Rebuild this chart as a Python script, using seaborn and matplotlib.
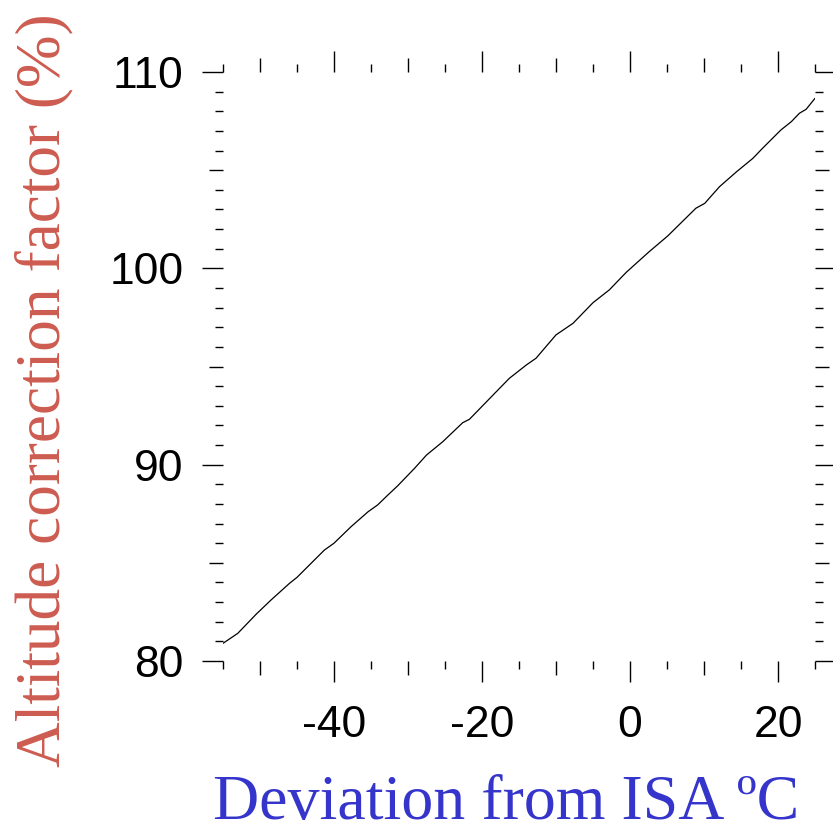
import matplotlib
matplotlib.use("Agg")
import matplotlib.pyplot as plt
import seaborn as sns
import pandas as pd
from matplotlib.ticker import FixedLocator, FuncFormatter

# Data
deviation = [-55, -53, -50.5, -48.5, -46, -45, -41.3, -40, -37.7, -35.4, -34.1, -32.7,
             -31.4, -29.1, -27.5, -25.3, -22.6, -21.7, -18.5, -16.3, -14, -12.7, -10,
             -7.7, -5, -2.8, -0.5, 2.6, 5.1, 8.9, 10.1, 12.1, 14.4, 16.6, 17.9, 20.4,
             21.8, 22.9, 23.8, 25]
factor = [80.9, 81.41, 82.39, 83.11, 83.96, 84.26, 85.65, 86.0, 86.84, 87.6, 87.95, 88.46,
          88.92, 89.82, 90.49, 91.17, 92.14, 92.31, 93.55, 94.4, 95.08, 95.42, 96.61,
          97.2, 98.25, 98.9, 99.8, 100.85, 101.65, 103.06, 103.31, 104.16, 104.92, 105.6,
          106.11, 107.05, 107.47, 107.9, 108.1, 108.66]

x_major = [-50, -40, -30, -20, -10, 0, 10, 20]
x_minor = [-55, -45, -35, -25, -15, -5, 5, 15, 25]
x_labelled = [-40, -20, 0, 20]
y_major = [80, 85, 90, 95, 100, 105, 110]
y_minor = [v for v in range(80, 111) if v % 5 != 0]
y_labelled = [80, 90, 100, 110]

df = pd.DataFrame({"dev": deviation, "fac": factor})

sns.set_theme(style="white")
plt.rcParams["font.family"] = ["Liberation Sans", "DejaVu Sans"]

fig = plt.figure(figsize=(8.33, 8.30), dpi=100)
ax = fig.add_axes([223 / 833, 1 - 661 / 830, (815 - 223) / 833, (661 - 72) / 830])

sns.lineplot(data=df, x="dev", y="fac", ax=ax, color="black", linewidth=0.9)

ax.set_xlim(-55, 25)
ax.set_ylim(80, 110)
for s in ax.spines.values():
    s.set_visible(False)

ax.xaxis.set_major_locator(FixedLocator(x_major))
ax.xaxis.set_minor_locator(FixedLocator(x_minor))
ax.yaxis.set_major_locator(FixedLocator(y_major))
ax.yaxis.set_minor_locator(FixedLocator(y_minor))
ax.xaxis.set_major_formatter(FuncFormatter(lambda v, p: f"{int(v)}" if int(round(v)) in x_labelled else ""))
ax.yaxis.set_major_formatter(FuncFormatter(lambda v, p: f"{int(v)}" if int(round(v)) in y_labelled else ""))

ax.tick_params(which="both", direction="out", color="black", width=1.0,
               top=True, bottom=True, left=True, right=True,
               labeltop=False, labelright=False)
ax.tick_params(which="major", length=15, labelsize=32, labelcolor="black")
ax.tick_params(which="minor", length=5.8)
ax.tick_params(axis="x", which="major", pad=17)
ax.tick_params(axis="y", which="major", pad=13.5)

ax.set_xlabel("Deviation from ISA ºC", family="Liberation Serif", fontsize=46, color="#3535CC")
ax.set_ylabel("Altitude correction factor (%)", family="Liberation Serif", fontsize=45.5, color="#CD5C50")
ax.xaxis.set_label_coords(0.479, -0.194)
ax.yaxis.set_label_coords(-0.252, 0.46)

fig.canvas.draw()
# medium-length ticks for the unlabelled major positions
for t in ax.xaxis.get_major_ticks():
    if int(round(t.get_loc())) not in x_labelled:
        t.tick1line.set_markersize(10)
        t.tick2line.set_markersize(10)
for t in ax.yaxis.get_major_ticks():
    if int(round(t.get_loc())) not in y_labelled:
        t.tick1line.set_markersize(10)
        t.tick2line.set_markersize(10)

fig.savefig("out.png", dpi=100, facecolor="white")
